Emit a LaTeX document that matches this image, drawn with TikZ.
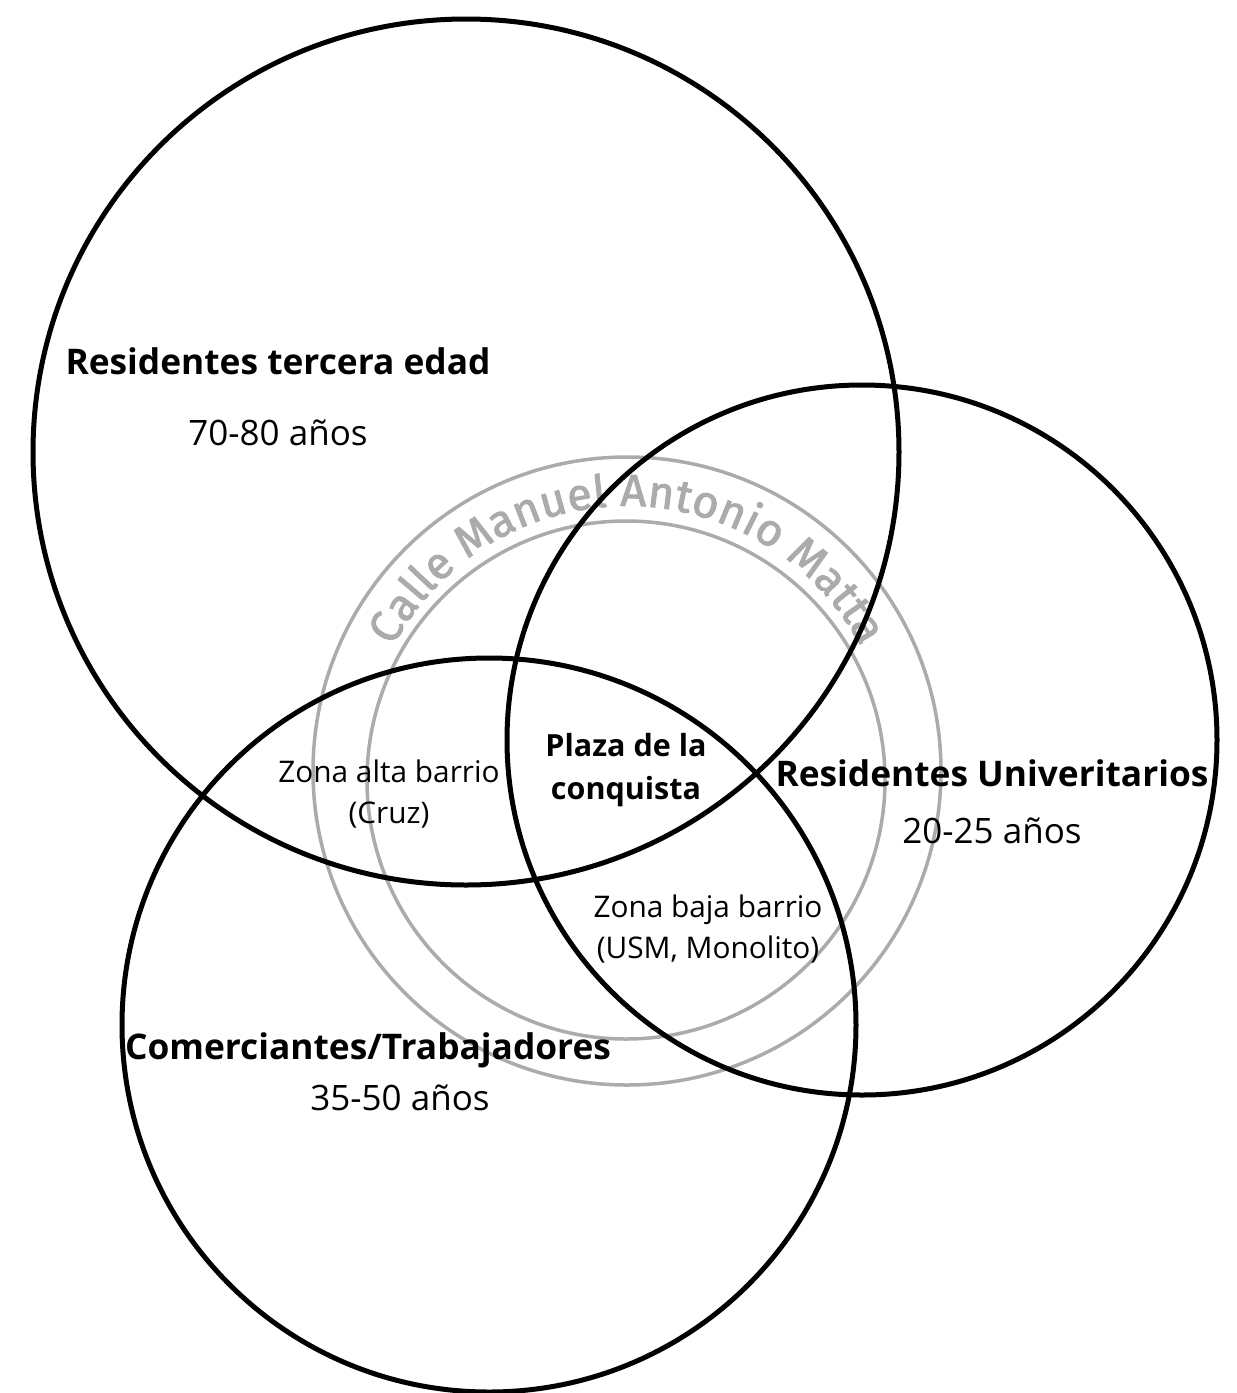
\documentclass[tikz,border=0pt]{standalone}
\usepackage{fontspec}
\setmainfont{Open Sans}
\newfontfamily\streetfont{Fira Sans}[FakeBold=2]
\usetikzlibrary{decorations.text, calc}
\definecolor{ringgray}{HTML}{ABABAB}
\begin{document}
\begin{tikzpicture}[
        x=1pt, y=1pt,
        group/.style={draw=black, line width=5pt},
        ring/.style={draw=ringgray, line width=3.5pt},
        title/.style={font=\fontsize{35.3}{40}\selectfont\bfseries, inner sep=0pt},
        ages/.style={font=\fontsize{35}{40}\selectfont, inner sep=0pt},
        zone/.style={font=\fontsize{29.8}{41.5}\selectfont, align=center, inner sep=0pt},
        plaza/.style={font=\fontsize{30.5}{43}\selectfont\bfseries, align=center, inner sep=0pt}
        ]
        \useasboundingbox (0,0) rectangle (1237,-1393);
        % centres
        \coordinate (elder) at (466,-452);
        \coordinate (students) at (862,-740);
        \coordinate (traders) at (489,-1025);
        \coordinate (street) at (627,-771);
        \coordinate (streetin) at (626,-780);
        % calle
        \draw[ring] (street) circle (314pt);
        \draw[ring] (streetin) circle (259pt);
        \path[decorate, decoration={text along path,
            text={|\streetfont\fontsize{45}{45}\selectfont\color{ringgray}|Calle Manuel Antonio Matta},
            text align=fit to path}]
            ($(street)+(152:265pt)$) arc (152:28:265pt);
        % groups
        \draw[group] (elder) circle (433pt);
        \draw[group] (students) circle (355pt);
        \draw[group] (traders) circle (367pt);
        % labels
        \node[title] (elderT) at (278,-361) {Residentes tercera edad};
        \node[ages] (elderA) at (278,-433) {70-80 años};
        \node[title] (studentsT) at (992,-773) {Residentes Univeritarios};
        \node[ages] (studentsA) at (992,-831) {20-25 años};
        \node[title] (tradersT) at (368,-1050) {Comerciantes/Trabajadores};
        \node[ages] (tradersA) at (400,-1098) {35-50 años};
        \node[zone] (upper) at (389,-794) {Zona alta barrio\\(Cruz)};
        \node[plaza] (plaza) at (626,-770) {Plaza de la\\conquista};
        \node[zone] (lower) at (708,-929) {Zona baja barrio\\(USM, Monolito)};
\end{tikzpicture}
\end{document}
